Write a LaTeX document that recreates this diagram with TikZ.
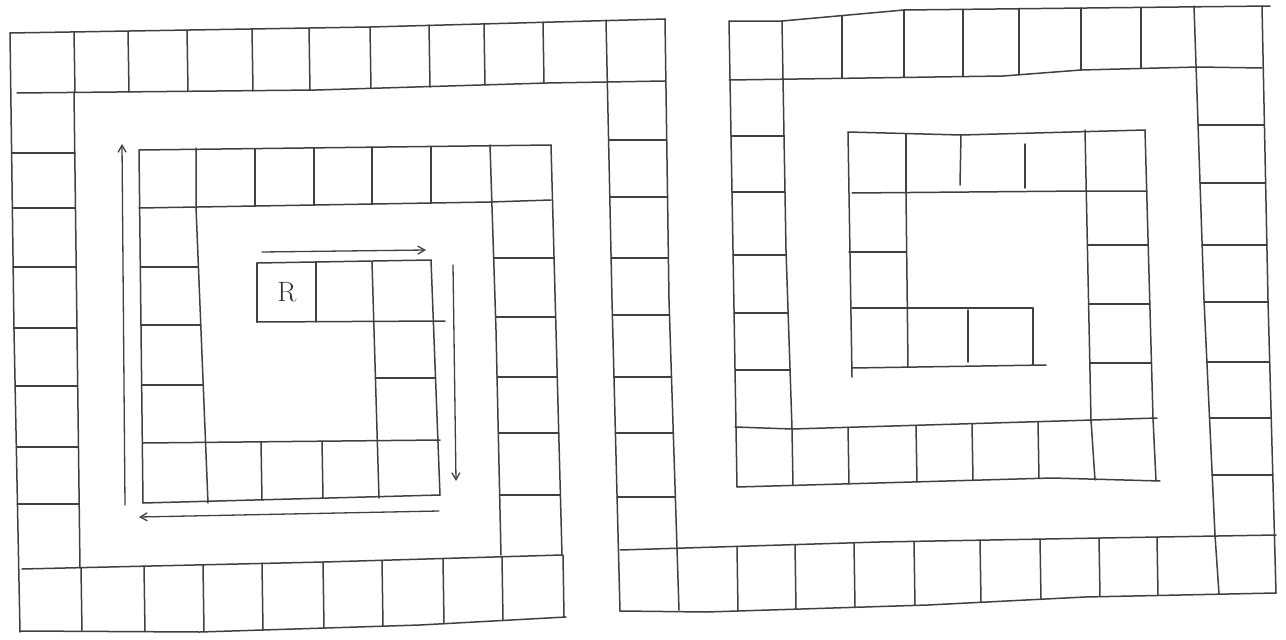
\documentclass[tikz,border=0pt]{standalone}
\usetikzlibrary{arrows.meta}
\begin{document}
\begin{tikzpicture}[x=1pt,y=-1pt,
  pen/.style={line width=1.5pt,draw=black!75,line cap=round,line join=round},
  arr/.style={pen,line width=1.3pt,-{Straight Barb[length=7pt,width=8pt]}}]
\useasboundingbox[fill=white] (0,0) rectangle (1286,640);

%%%%%%%%%%%%%%%% LEFT SPIRAL %%%%%%%%%%%%%%%%
% outer top row
\draw[pen] (10,33) -- (370,27) -- (665,19);
\draw[pen] (17,93) -- (316,90) -- (547,83) -- (665,81);
\foreach \x/\a/\b in {74/32/92,128/31/92,187/30/91,252/29/91,309/28/90,370/27/88,429/25/87,484/24/85,543/22/83}
  \draw[pen] (\x,\a) -- (\x+1,\b);
% outer left column
\draw[pen] (10,33) -- (14,330) -- (20,632);
\draw[pen] (74,92) -- (77,330) -- (80,568);
\foreach \y/\a/\b in {153/11.6/74.8,208/12.4/75.5,267/13.2/76.2,328/14/77,386/15.1/77.7,447/16.3/78.5,504/17.5/79.3}
  \draw[pen] (\a,\y) -- (\b,\y);
% outer bottom row
\draw[pen] (22,569) -- (324,562) -- (562,555);
\draw[pen] (20,631) -- (200,632) -- (420,625) -- (566,617);
\foreach \x/\a/\b in {82/567.6/631.3,145/566.1/631.7,204/564.8/631.9,263/563.4/630,324/562/628.1,383/560.3/626.2,444/558.5/623.7,503/556.7/620.5,564/555/617.1}
  \draw[pen] (\x-1,\a) -- (\x,\b);
% ring 2 top row
\draw[pen] (139,150) -- (551,145);
\draw[pen] (139,208) -- (490,202) -- (551,200);
\foreach \x/\a/\b in {255/148.6/206,314/147.9/205,372/147.2/204,431/146.5/203}
  \draw[pen] (\x,\a) -- (\x,\b);
% ring 2 right column
\draw[pen] (490,145) -- (496,330) -- (501,555);
\draw[pen] (551,145) -- (556,330) -- (562,555);
\foreach \y/\a/\b in {258/493.7/554,317/495.6/555.6,377/497/557.3,433/498.3/558.7,495/499.7/560.4}
  \draw[pen] (\a,\y) -- (\b,\y);
% ring 2 left column
\draw[pen] (139,150) -- (143,503);
\draw[pen] (196,148) -- (196,207) -- (208,503);
\foreach \y/\a/\b in {267/140.3/198.4,325/141/200.8,385/141.7/203.2}
  \draw[pen] (\a,\y) -- (\b,\y);
% ring 2 bottom row
\draw[pen] (143,443) -- (440,440);
\draw[pen] (143,503) -- (440,495);
\draw[pen] (261,442) -- (262,500);
\draw[pen] (322,441) -- (323,498);
% inner right column
\draw[pen] (372,262) -- (379,498);
\draw[pen] (431,260) -- (440,495);
\draw[pen] (375.4,378) -- (435.5,378);
% innermost row
\draw[pen] (257,263) -- (431,260);
\draw[pen] (257,322) -- (445,321);
\draw[pen] (257,263) -- (257,322);
\draw[pen] (316,262) -- (316,322);
\node[text=black!80,font=\fontsize{28}{28}\selectfont] (r) at (287,292) {R};

% arrows
\coordinate (a1s) at (262,252); \coordinate (a1e) at (426,250);
\coordinate (a2s) at (453,265); \coordinate (a2e) at (456,481);
\coordinate (a3s) at (439,511); \coordinate (a3e) at (139,517);
\coordinate (a4s) at (125,505); \coordinate (a4e) at (122,144);
\draw[arr] (a1s) -- (a1e);
\draw[arr] (a2s) -- (a2e);
\draw[arr] (a3s) -- (a3e);
\draw[arr] (a4s) -- (a4e);

%%%%%%%%%%%%%%%% MIDDLE COLUMN %%%%%%%%%%%%%%%%
\draw[pen] (606,20) -- (612,300) -- (620,611);
\draw[pen] (665,19) -- (669,300) -- (679,610);
\foreach \y/\a/\b in {140/608.6/666.7,197/609.8/667.5,258/611.1/668.4,315/612.4/669.5,377/614/671.5,433/615.4/673.3,497/617.1/675.4}
  \draw[pen] (\a,\y) -- (\b,\y);

%%%%%%%%%%%%%%%% RIGHT SPIRAL %%%%%%%%%%%%%%%%
% outer top row
\draw[pen] (729,21) -- (782,21) -- (904,10) -- (1270,6);
\draw[pen] (729,80) -- (1003,76) -- (1081,70) -- (1198,67) -- (1262,68);
\foreach \x/\a/\b in {842/15.6/78.4,904/10/77.4,963/9.4/76.6,1019/8.7/74.8,1081/8.1/70,1141/7.4/68.5}
  \draw[pen] (\x,\a) -- (\x,\b);
% outer left column
\draw[pen] (729,21) -- (733,250) -- (737,487);
\draw[pen] (782,21) -- (786,250) -- (792,428);
\foreach \y/\a/\b in {136/731/784,192/732/785,255/733.1/786.1,313/734.1/788.1,370/735/790}
  \draw[pen] (\a,\y) -- (\b,\y);
% ring 2 bottom row
\draw[pen] (735,427) -- (792,429) -- (1093,420) -- (1157,418);
\draw[pen] (737,487) -- (1052,478) -- (1160,481);
\foreach \x/\a/\b in {792/429/485.4,848/427.3/483.8,916/425.3/481.9,972/423.6/480.3,1038/421.6/478.4}
  \draw[pen] (\x,\a) -- (\x+1,\b);
% ring 2 right column
\draw[pen] (1085,130) -- (1091,420) -- (1095,480);
\draw[pen] (1145,130) -- (1153,418) -- (1156,481);
\foreach \y/\a/\b in {245/1087.4/1148.2,304/1088.6/1149.8,363/1089.8/1151.5}
  \draw[pen] (\a,\y) -- (\b,\y);
% ring 2 top row
\draw[pen] (848,132) -- (961,135) -- (1145,130);
\draw[pen] (852,193) -- (1085,191) -- (1147,191);
\draw[pen] (906,133.5) -- (906,193);
\draw[pen] (961,135) -- (960,185);
\draw[pen] (1025,144) -- (1025,188);
% ring 2 left column
\draw[pen] (848,132) -- (852,377);
\draw[pen] (906,193) -- (908,367);
\draw[pen] (849,252) -- (906,252);
% innermost row
\draw[pen] (852,308) -- (1033,308);
\draw[pen] (852,368) -- (1046,365);
\draw[pen] (968,310) -- (968,362);
\draw[pen] (1033,308) -- (1033,365);
% outer right column
\draw[pen] (1194,6) -- (1204,300) -- (1215,535) -- (1219,594);
\draw[pen] (1262,6) -- (1268,300) -- (1276,593);
\foreach \y/\a/\b in {125/1198/1264.4,183/1200/1265.6,245/1202.1/1266.9,302/1204/1268,362/1206.9/1269.7,418/1209.5/1271.2,475/1212.2/1272.8}
  \draw[pen] (\a,\y) -- (\b,\y);
% bottom row
\draw[pen] (620,550) -- (879,542) -- (1101,538) -- (1276,535);
\draw[pen] (620,611) -- (706,612) -- (928,605) -- (1085,597) -- (1276,593);
\foreach \x/\a/\b in {737/546.4/611,795/544.6/609.2,854/542.8/607.3,914/541.4/605.4,980/540.2/602.3,1040/539.1/599.3,1099/538/596.7,1157/537/595.5}
  \draw[pen] (\x,\a) -- (\x+1,\b);
\end{tikzpicture}
\end{document}
